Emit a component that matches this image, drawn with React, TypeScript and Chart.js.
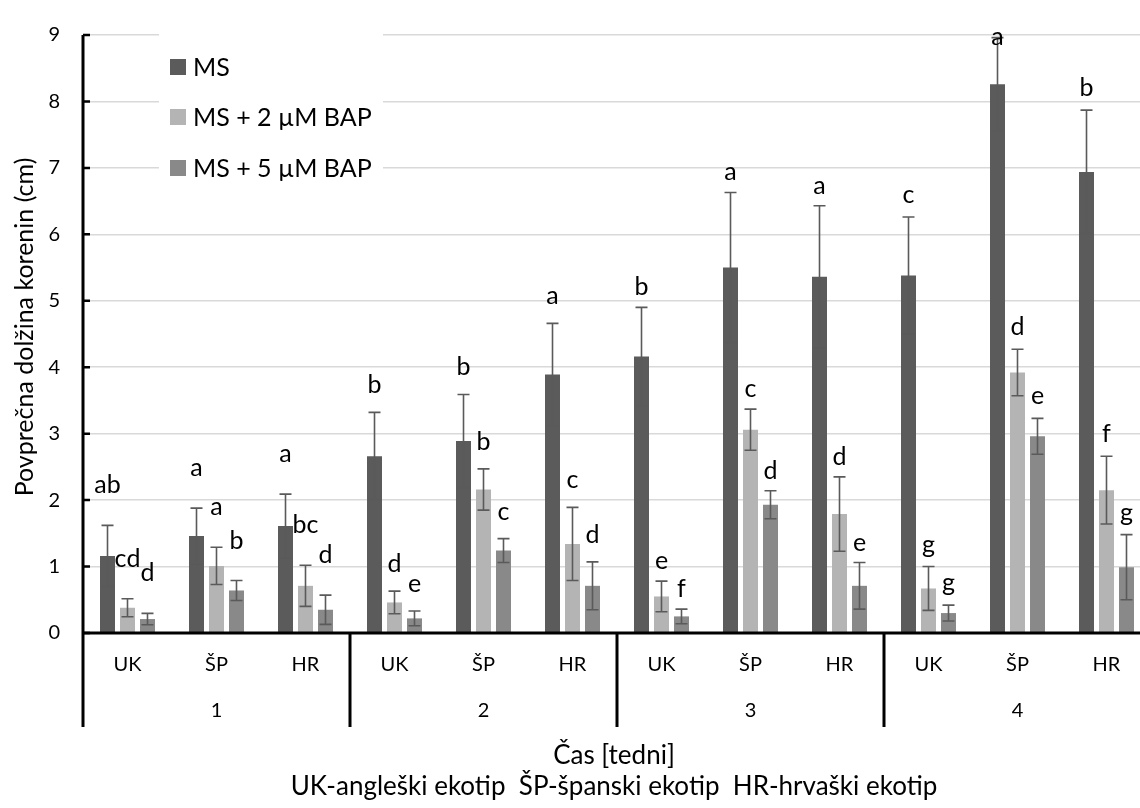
import React, { useEffect, useRef } from "react";
import { Chart, registerables } from "chart.js";

Chart.register(...registerables);

// ---------- data ----------
const categories = ["UK", "ŠP", "HR", "UK", "ŠP", "HR", "UK", "ŠP", "HR", "UK", "ŠP", "HR"];
const weeks = ["1", "2", "3", "4"];
const seriesNames = ["MS", "MS + 2 µM BAP", "MS + 5 µM BAP"];

const msValues = [1.16, 1.46, 1.61, 2.66, 2.89, 3.89, 4.16, 5.5, 5.36, 5.38, 8.26, 6.94];
const msErrors = [0.46, 0.42, 0.48, 0.66, 0.7, 0.77, 0.74, 1.13, 1.07, 0.88, 0.7, 0.93];
const msLetters = ["ab", "a", "a", "b", "b", "a", "b", "a", "a", "c", "a", "b"];

const bap2Values = [0.38, 1.01, 0.71, 0.46, 2.16, 1.34, 0.55, 3.06, 1.79, 0.67, 3.92, 2.15];
const bap2Errors = [0.135, 0.28, 0.31, 0.17, 0.31, 0.55, 0.23, 0.31, 0.56, 0.33, 0.35, 0.51];
const bap2Letters = ["cd", "a", "bc", "d", "b", "c", "e", "c", "d", "g", "d", "f"];

const bap5Values = [0.21, 0.64, 0.35, 0.22, 1.24, 0.71, 0.25, 1.93, 0.71, 0.3, 2.96, 0.99];
const bap5Errors = [0.085, 0.15, 0.22, 0.11, 0.18, 0.36, 0.11, 0.21, 0.35, 0.12, 0.27, 0.49];
const bap5Letters = ["d", "b", "d", "e", "c", "d", "f", "d", "e", "g", "e", "g"];

const yMin = 0;
const yMax = 9;
const yStep = 1;

const yTitle = "Povprečna dolžina korenin (cm)";
const xTitle = "Čas [tedni]";
const xSubtitle = "UK-angleški ekotip  ŠP-španski ekotip  HR-hrvaški ekotip";

// ---------- styles ----------
const COLORS = ["#5b5b5b", "#b4b4b4", "#898989"];
const ERR_COLOR = "#5a5a5a";
const FONT = "Lato, 'Open Sans', sans-serif";
const LABEL_GAP_BY_WEEK = [32, 19, 12, 14];

const allValues = [msValues, bap2Values, bap5Values];
const allErrors = [msErrors, bap2Errors, bap5Errors];
const allLetters = [msLetters, bap2Letters, bap5Letters];

const overlayPlugin = {
  id: "overlay",
  afterDatasetsDraw(chart: any) {
    const { ctx, chartArea, scales } = chart;
    const y = scales.y;
    const { left, right, top, bottom } = chartArea;
    const n = categories.length;
    const catW = (right - left) / n;
    const axisBottom = 727;

    ctx.save();

    // error bars
    ctx.strokeStyle = ERR_COLOR;
    ctx.lineWidth = 1.6;
    for (let d = 0; d < 3; d++) {
      const meta = chart.getDatasetMeta(d);
      meta.data.forEach((bar: any, i: number) => {
        const v = allValues[d][i];
        const e = allErrors[d][i];
        const yt = y.getPixelForValue(v + e);
        const yb = y.getPixelForValue(Math.max(0, v - e));
        const x = bar.x;
        const cap = 6;
        ctx.beginPath();
        ctx.moveTo(x, yt);
        ctx.lineTo(x, yb);
        ctx.moveTo(x - cap, yt);
        ctx.lineTo(x + cap, yt);
        ctx.moveTo(x - cap, yb);
        ctx.lineTo(x + cap, yb);
        ctx.stroke();
      });
    }

    // significance letters
    ctx.fillStyle = "#000";
    ctx.font = `25px ${FONT}`;
    ctx.textAlign = "center";
    ctx.textBaseline = "alphabetic";
    for (let d = 0; d < 3; d++) {
      const meta = chart.getDatasetMeta(d);
      meta.data.forEach((bar: any, i: number) => {
        const v = allValues[d][i];
        const e = allErrors[d][i];
        const yt = y.getPixelForValue(v + e);
        const gap = LABEL_GAP_BY_WEEK[Math.floor(i / 3)];
        const ty = Math.max(yt - gap, top + 10);
        ctx.fillText(allLetters[d][i], bar.x, ty);
      });
    }

    // axes
    ctx.strokeStyle = "#000";
    ctx.lineWidth = 3;
    ctx.beginPath();
    ctx.moveTo(left, top);
    ctx.lineTo(left, axisBottom);
    ctx.moveTo(left, bottom);
    ctx.lineTo(right, bottom);
    for (let g = 1; g < weeks.length; g++) {
      const bx = left + g * 3 * catW;
      ctx.moveTo(bx, bottom);
      ctx.lineTo(bx, axisBottom);
    }
    ctx.stroke();
    // inward y tick marks
    ctx.lineWidth = 2.5;
    ctx.beginPath();
    for (let t = yMin; t <= yMax; t += yStep) {
      const py = y.getPixelForValue(t);
      ctx.moveTo(left, py);
      ctx.lineTo(left + 7, py);
    }
    ctx.stroke();

    // category & week labels
    ctx.fillStyle = "#000";
    ctx.font = `20px ${FONT}`;
    ctx.textAlign = "center";
    ctx.textBaseline = "middle";
    categories.forEach((c, i) => {
      const cx = scales.x.getPixelForValue(i);
      ctx.fillText(c, cx, 665);
    });
    weeks.forEach((w, g) => {
      const cx = left + (g * 3 + 1.5) * catW;
      ctx.fillText(w, cx, 711);
    });

    // axis titles
    ctx.font = `26px ${FONT}`;
    ctx.textBaseline = "alphabetic";
    const tx = (left + right) / 2 - 3;
    ctx.fillText(xTitle, tx, 764);
    ctx.fillText(xSubtitle, tx, 795);

    ctx.font = `25px ${FONT}`;
    ctx.save();
    ctx.translate(33, (top + bottom) / 2 - 7);
    ctx.rotate(-Math.PI / 2);
    ctx.textAlign = "center";
    ctx.fillText(yTitle, 0, 0);
    ctx.restore();

    // legend
    ctx.fillStyle = "#fff";
    ctx.fillRect(159, 34, 224, 168);
    const rows = [67, 117, 168];
    ctx.font = `25px ${FONT}`;
    ctx.textAlign = "left";
    ctx.textBaseline = "middle";
    seriesNames.forEach((name, k) => {
      ctx.fillStyle = COLORS[k];
      ctx.fillRect(170, rows[k] - 8, 16, 16);
      ctx.fillStyle = "#000";
      ctx.fillText(name, 193, rows[k] + 1);
    });

    ctx.restore();
  },
};

export default function App() {
  const ref = useRef<HTMLCanvasElement | null>(null);

  useEffect(() => {
    if (!ref.current) return;
    const chart = new Chart(ref.current, {
      type: "bar",
      data: {
        labels: categories,
        datasets: seriesNames.map((name, k) => ({
          label: name,
          data: allValues[k],
          backgroundColor: COLORS[k],
          borderWidth: 0,
          categoryPercentage: 0.674,
          barPercentage: 0.75,
        })),
      },
      options: {
        responsive: false,
        animation: false,
        devicePixelRatio: 1,
        layout: { padding: { top: 21, right: 9, left: 0, bottom: 0 } },
        plugins: {
          legend: { display: false },
          tooltip: { enabled: false },
        },
        scales: {
          x: {
            grid: { display: false },
            border: { display: false },
            ticks: { display: false },
            afterFit: (s: any) => {
              s.height = 175;
            },
          },
          y: {
            min: yMin,
            max: yMax,
            ticks: {
              stepSize: yStep,
              padding: 23,
              color: "#000",
              font: { family: FONT, size: 20 },
            },
            grid: { color: "#d9d9d9", lineWidth: 1.5, drawTicks: false },
            border: { display: false },
            afterFit: (s: any) => {
              s.width = 83;
            },
          },
        },
      } as any,
      plugins: [overlayPlugin],
    });
    return () => chart.destroy();
  }, []);

  return (
    <div
      style={{
        position: "fixed",
        left: 0,
        top: 0,
        width: 1140,
        height: 808,
        overflow: "hidden",
        background: "#fff",
      }}
    >
      <canvas ref={ref} width={1160} height={808} style={{ display: "block" }} />
    </div>
  );
}
